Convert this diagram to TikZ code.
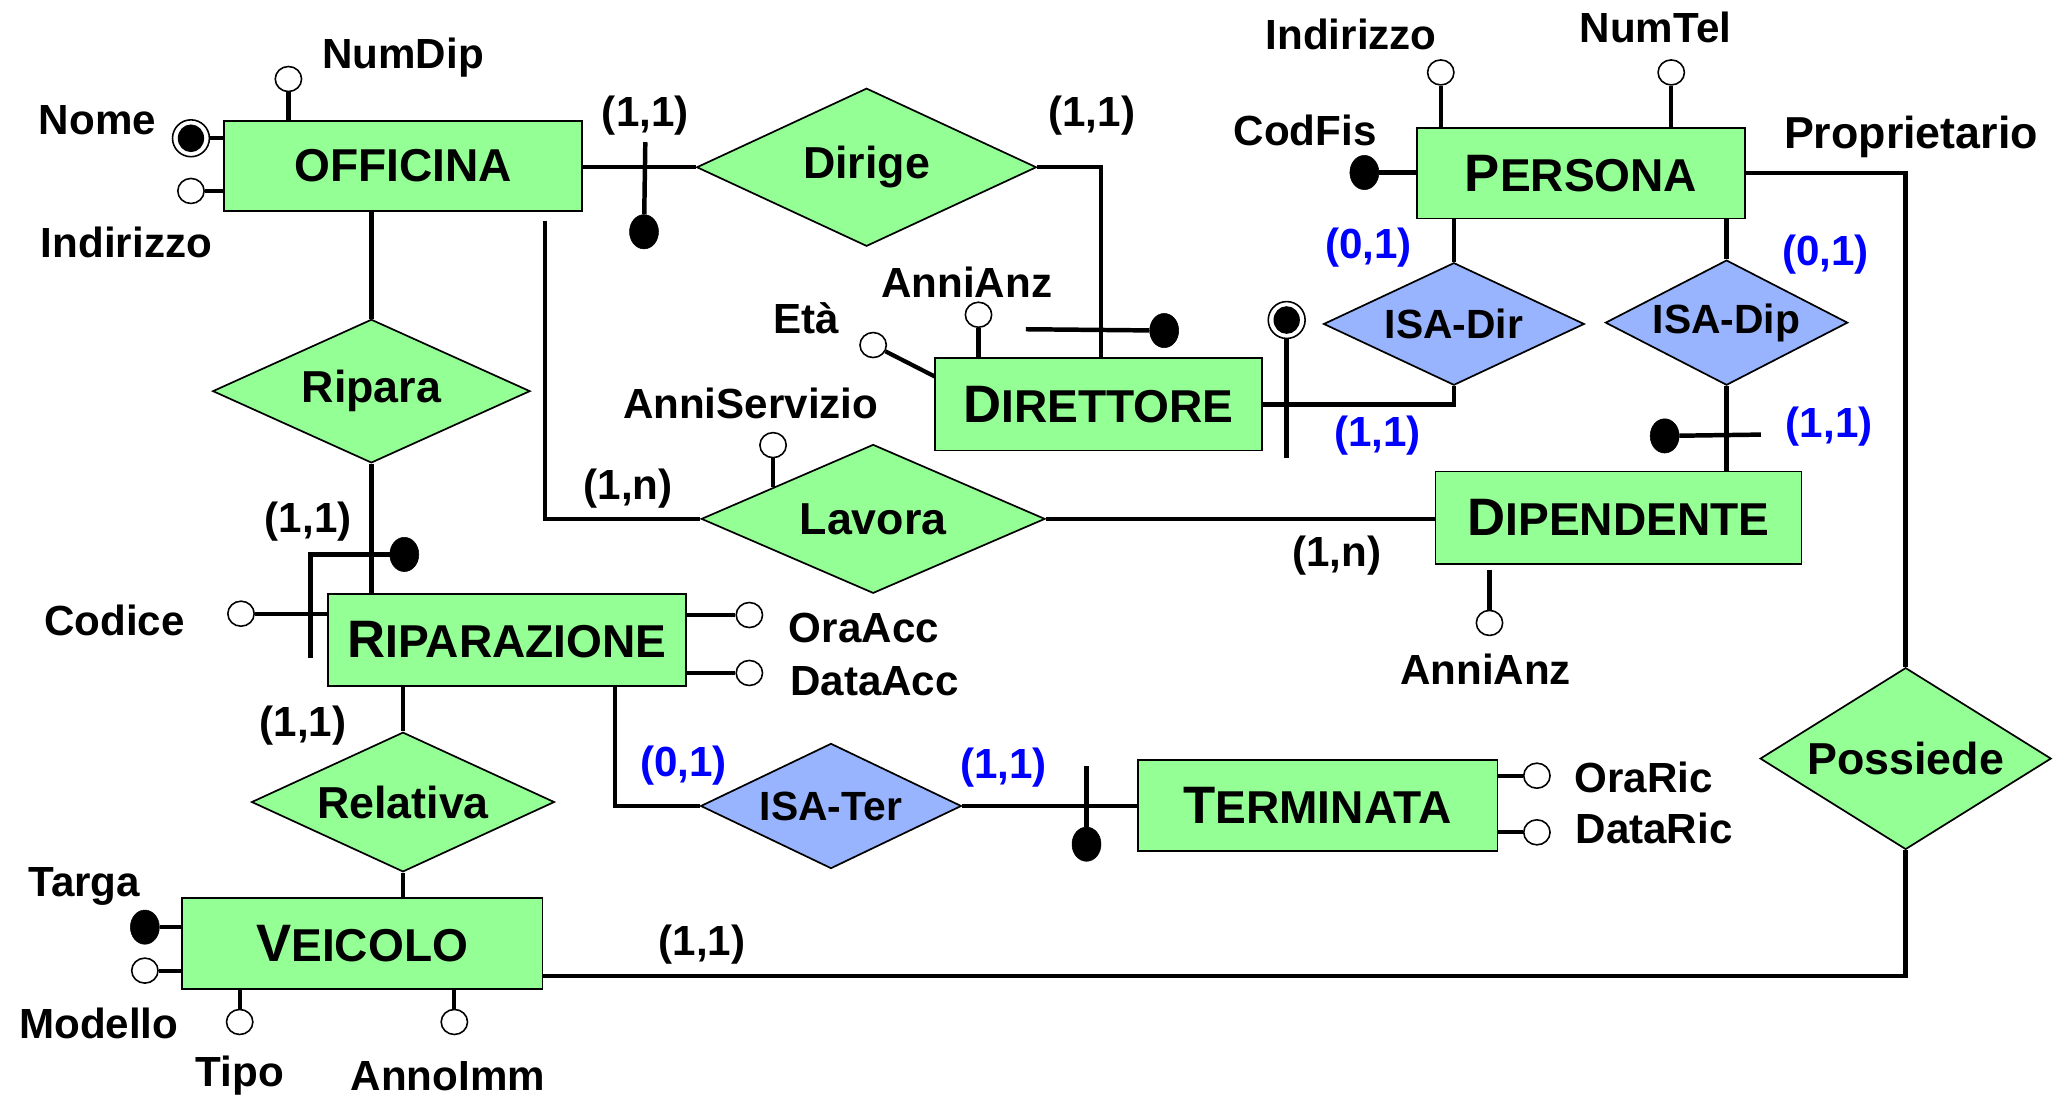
\documentclass[tikz,border=0pt]{standalone}
\usepackage{fontspec}
\setmainfont{Liberation Sans}
\usetikzlibrary{shapes.geometric}
\definecolor{entgreen}{RGB}{148,255,148}
\definecolor{isablue}{RGB}{153,180,255}
\definecolor{cardblue}{RGB}{0,0,255}
\newcommand{\myfs}[1]{\fontsize{#1}{#1}\selectfont}
\newcommand{\myent}[2]{{\myfs{40}#1}{\myfs{35}#2}}
\begin{document}
\begin{tikzpicture}[x=1pt,y=-1pt,
  entity/.style={draw=black, line width=1.3pt, fill=entgreen, rectangle, inner sep=0pt, font=\bfseries},
  rel/.style={draw=black, line width=1.3pt, fill=entgreen, diamond, inner sep=0pt, font=\bfseries\myfs{34}},
  isa/.style={draw=black, line width=1.3pt, fill=isablue, diamond, inner sep=0pt, font=\bfseries\myfs{31}},
  attr/.style={draw=black, line width=1.2pt, fill=white, ellipse, minimum width=20pt, minimum height=19pt, inner sep=0pt},
  keyattr/.style={draw=black, fill=black, ellipse, minimum width=22pt, minimum height=26pt, inner sep=0pt},
  dblout/.style={draw=black, line width=1.2pt, fill=white, ellipse, minimum width=28pt, minimum height=28pt, inner sep=0pt},
  dblin/.style={fill=black, ellipse, minimum width=20pt, minimum height=21pt, inner sep=0pt},
  conn/.style={line width=3.4pt},
  stem/.style={line width=3.2pt},
  lbl/.style={font=\bfseries\myfs{32}, inner sep=0pt},
  bcard/.style={lbl, text=cardblue},
]
\useasboundingbox (0,0) rectangle (1568,834);

% entities
\node[entity, minimum width=272pt, minimum height=68pt] (off) at (306,126) {\myfs{35}OFFICINA};
\node[entity, minimum width=249pt, minimum height=69pt] (pers) at (1200.5,131.5) {\myent{P}{ERSONA}};
\node[entity, minimum width=248pt, minimum height=70pt] (dir) at (834,307) {\myent{D}{IRETTORE}};
\node[entity, minimum width=278pt, minimum height=70pt] (dip) at (1229,393) {\myent{D}{IPENDENTE}};
\node[entity, minimum width=272pt, minimum height=70pt] (ripz) at (385,486) {\myent{R}{IPARAZIONE}};
\node[entity, minimum width=273pt, minimum height=69pt] (term) at (1000.5,611.5) {\myent{T}{ERMINATA}};
\node[entity, minimum width=274pt, minimum height=69pt] (veic) at (275,716.5) {\myent{V}{EICOLO}};

% relationships
\node[rel, aspect=2.15, minimum width=258pt, minimum height=120pt] (dirige) at (658,127) {Dirige};
\node[rel, aspect=2.19, minimum width=241pt, minimum height=109pt] (ripara) at (282,297) {Ripara};
\node[rel, aspect=2.3, minimum width=261pt, minimum height=113pt] (lavora) at (663,394) {Lavora};
\node[rel, aspect=2.17, minimum width=230pt, minimum height=106pt] (relativa) at (306,609) {Relativa};
\node[rel, aspect=1.6, minimum width=221pt, minimum height=138pt] (possiede) at (1447,576) {Possiede};
\node[isa, aspect=2.1, minimum width=198pt, minimum height=93pt] (isadir) at (1104,246) {ISA-Dir};
\node[isa, aspect=1.92, minimum width=184pt, minimum height=95pt] (isadip) at (1311,245) {ISA-Dip};
\node[isa, aspect=2.08, minimum width=198pt, minimum height=95pt] (isater) at (631,612) {ISA-Ter};

% attribute circles
\node[attr] (a-numdip) at (219,60) {};
\node[dblout] (a-nome) at (145,105) {};
\node[dblin] (a-nomein) at (145,105) {};
\node[attr] (a-offind) at (145,145) {};
\node[attr] (a-pind) at (1094,55) {};
\node[attr] (a-numtel) at (1269,55) {};
\node[keyattr] (a-codfis) at (1036,131) {};
\node[attr] (a-eta) at (663,262) {};
\node[attr] (a-dirann) at (743,239) {};
\node[attr] (a-annserv) at (587,338) {};
\node[attr] (a-dipann) at (1131,473) {};
\node[attr] (a-codice) at (183,466) {};
\node[attr] (a-oraacc) at (569,467) {};
\node[attr] (a-dataacc) at (569,511) {};
\node[attr] (a-oraric) at (1167,589) {};
\node[attr] (a-dataric) at (1167,632) {};
\node[keyattr] (a-targa) at (110,704) {};
\node[attr] (a-modello) at (110,737) {};
\node[attr] (a-tipo) at (182,776) {};
\node[attr] (a-annoimm) at (345,776) {};

% identifier ends
\node[keyattr] (k-off) at (489,176) {};
\node[keyattr] (k-dir1) at (884,251) {};
\node[keyattr] (k-ripz) at (307,421) {};
\node[dblout] (k-dir2) at (977,243) {};
\node[dblin] (k-dir2in) at (977,243) {};
\node[keyattr] (k-dip) at (1264,331) {};
\node[keyattr] (k-term) at (825,641) {};

% coordinates
\coordinate (t-off) at (490,108);
\coordinate (c-dir) at (836,127);
\coordinate (t-dir1) at (779,250);
\coordinate (c-lav1) at (414,168);
\coordinate (c-lav2) at (414,394);
\coordinate (c-annserv) at (587,370);
\coordinate (t-ripz1) at (236,421);
\coordinate (t-ripz2) at (236,500);
\coordinate (c-ter) at (467,521);
\coordinate (t-term) at (825,582);
\coordinate (t-dir2) at (977,348);
\coordinate (t-dip) at (1337,330);
\coordinate (c-pos1) at (1447,131.5);
\coordinate (c-pos2) at (1447,741);
\coordinate (c-eta) at (710,286);
\coordinate (c-dipann) at (1131,433);

% connectors
\draw[conn] (off.east |- dirige.west) -- (dirige.west);
\draw[conn] (t-off) -- (k-off);
\draw[conn] (dirige.east) -- (c-dir) -- (c-dir |- dir.north);
\draw[conn] (t-dir1) -- (k-dir1);
\draw[conn] (c-lav1) -- (c-lav2) -- (lavora.west);
\draw[conn] (lavora.east) -- (lavora.east -| dip.west);
\draw[stem] (a-annserv) -- (c-annserv);
\draw[conn] (ripara.north |- off.south) -- (ripara.north);
\draw[conn] (ripara.south) -- (ripara.south |- ripz.north);
\draw[conn, line width=4pt] (k-ripz) -- (t-ripz1) -- (t-ripz2);
\draw[stem] (a-codice) -- (a-codice -| ripz.west);
\draw[conn] (relativa.north |- ripz.south) -- (relativa.north);
\draw[conn] (relativa.south) -- (relativa.south |- veic.north);
\draw[conn] (c-ter) |- (isater.west);
\draw[conn] (isater.east) -- (isater.east -| term.west);
\draw[conn] (t-term) -- (k-term);
\draw[conn] (isadir.north |- pers.south) -- (isadir.north);
\draw[conn] (isadir.south) |- (dir.east);
\draw[conn] (k-dir2) -- (t-dir2);
\draw[conn] (isadip.north |- pers.south) -- (isadip.north);
\draw[conn] (isadip.south) -- (isadip.south |- dip.north);
\draw[conn] (k-dip) -- (t-dip);
\draw[conn] (pers.east) -- (c-pos1) -- (possiede.north);
\draw[conn] (possiede.south) -- (c-pos2) -- (c-pos2 -| veic.east);

% attribute stems
\draw[stem] (a-numdip) -- (a-numdip |- off.north);
\draw[stem] (a-nome) -- (a-nome -| off.west);
\draw[stem] (a-offind) -- (a-offind -| off.west);
\draw[stem] (a-pind) -- (a-pind |- pers.north);
\draw[stem] (a-numtel) -- (a-numtel |- pers.north);
\draw[stem] (a-codfis) -- (a-codfis -| pers.west);
\draw[stem] (a-dirann) -- (a-dirann |- dir.north);
\draw[stem] (a-eta) -- (c-eta);
\draw[stem] (c-dipann) -- (a-dipann);
\draw[stem] (a-oraacc) -- (a-oraacc -| ripz.east);
\draw[stem] (a-dataacc) -- (a-dataacc -| ripz.east);
\draw[stem] (a-oraric) -- (a-oraric -| term.east);
\draw[stem] (a-dataric) -- (a-dataric -| term.east);
\draw[stem] (a-targa) -- (a-targa -| veic.west);
\draw[stem] (a-modello) -- (a-modello -| veic.west);
\draw[stem] (a-tipo) -- (a-tipo |- veic.south);
\draw[stem] (a-annoimm) -- (a-annoimm |- veic.south);

% labels
\node[lbl] (l-numdip) at (306,44) {NumDip};
\node[lbl] (l-nome) at (74,91) {Nome};
\node[lbl] (l-offind) at (96,184) {Indirizzo};
\node[lbl] (l-c1) at (490,88) {(1,1)};
\node[lbl] (l-c2) at (829,88) {(1,1)};
\node[lbl] (l-pind) at (1026,26) {Indirizzo};
\node[lbl] (l-numtel) at (1257,21) {NumTel};
\node[lbl] (l-codfis) at (991,99) {CodFis};
\node[lbl, font=\bfseries\myfs{34}] (l-prop) at (1451,104) {Proprietario};
\node[bcard] (l-c3) at (1039,188) {(0,1)};
\node[bcard] (l-c4) at (1386,193) {(0,1)};
\node[lbl] (l-eta) at (612,242) {Età};
\node[lbl] (l-dirann) at (734,214) {AnniAnz};
\node[lbl] (l-annserv) at (570,306) {AnniServizio};
\node[bcard] (l-c5) at (1046,331) {(1,1)};
\node[bcard] (l-c6) at (1389,324) {(1,1)};
\node[lbl] (l-c7) at (477,371) {(1,n)};
\node[lbl] (l-c8) at (1015,422) {(1,n)};
\node[lbl] (l-dipann) at (1128,508) {AnniAnz};
\node[lbl] (l-c9) at (234,396) {(1,1)};
\node[lbl] (l-codice) at (87,471) {Codice};
\node[lbl] (l-oraacc) at (656,477) {OraAcc};
\node[lbl] (l-dataacc) at (664,517) {DataAcc};
\node[lbl] (l-c10) at (230,551) {(1,1)};
\node[bcard] (l-c11) at (519,581) {(0,1)};
\node[bcard] (l-c12) at (762,583) {(1,1)};
\node[lbl] (l-oraric) at (1248,590) {OraRic};
\node[lbl] (l-dataric) at (1256,629) {DataRic};
\node[lbl] (l-targa) at (64,673) {Targa};
\node[lbl] (l-c13) at (533,717) {(1,1)};
\node[lbl] (l-modello) at (75,777) {Modello};
\node[lbl] (l-tipo) at (182,817) {Tipo};
\node[lbl] (l-annoimm) at (340,817) {AnnoImm};
\end{tikzpicture}
\end{document}
